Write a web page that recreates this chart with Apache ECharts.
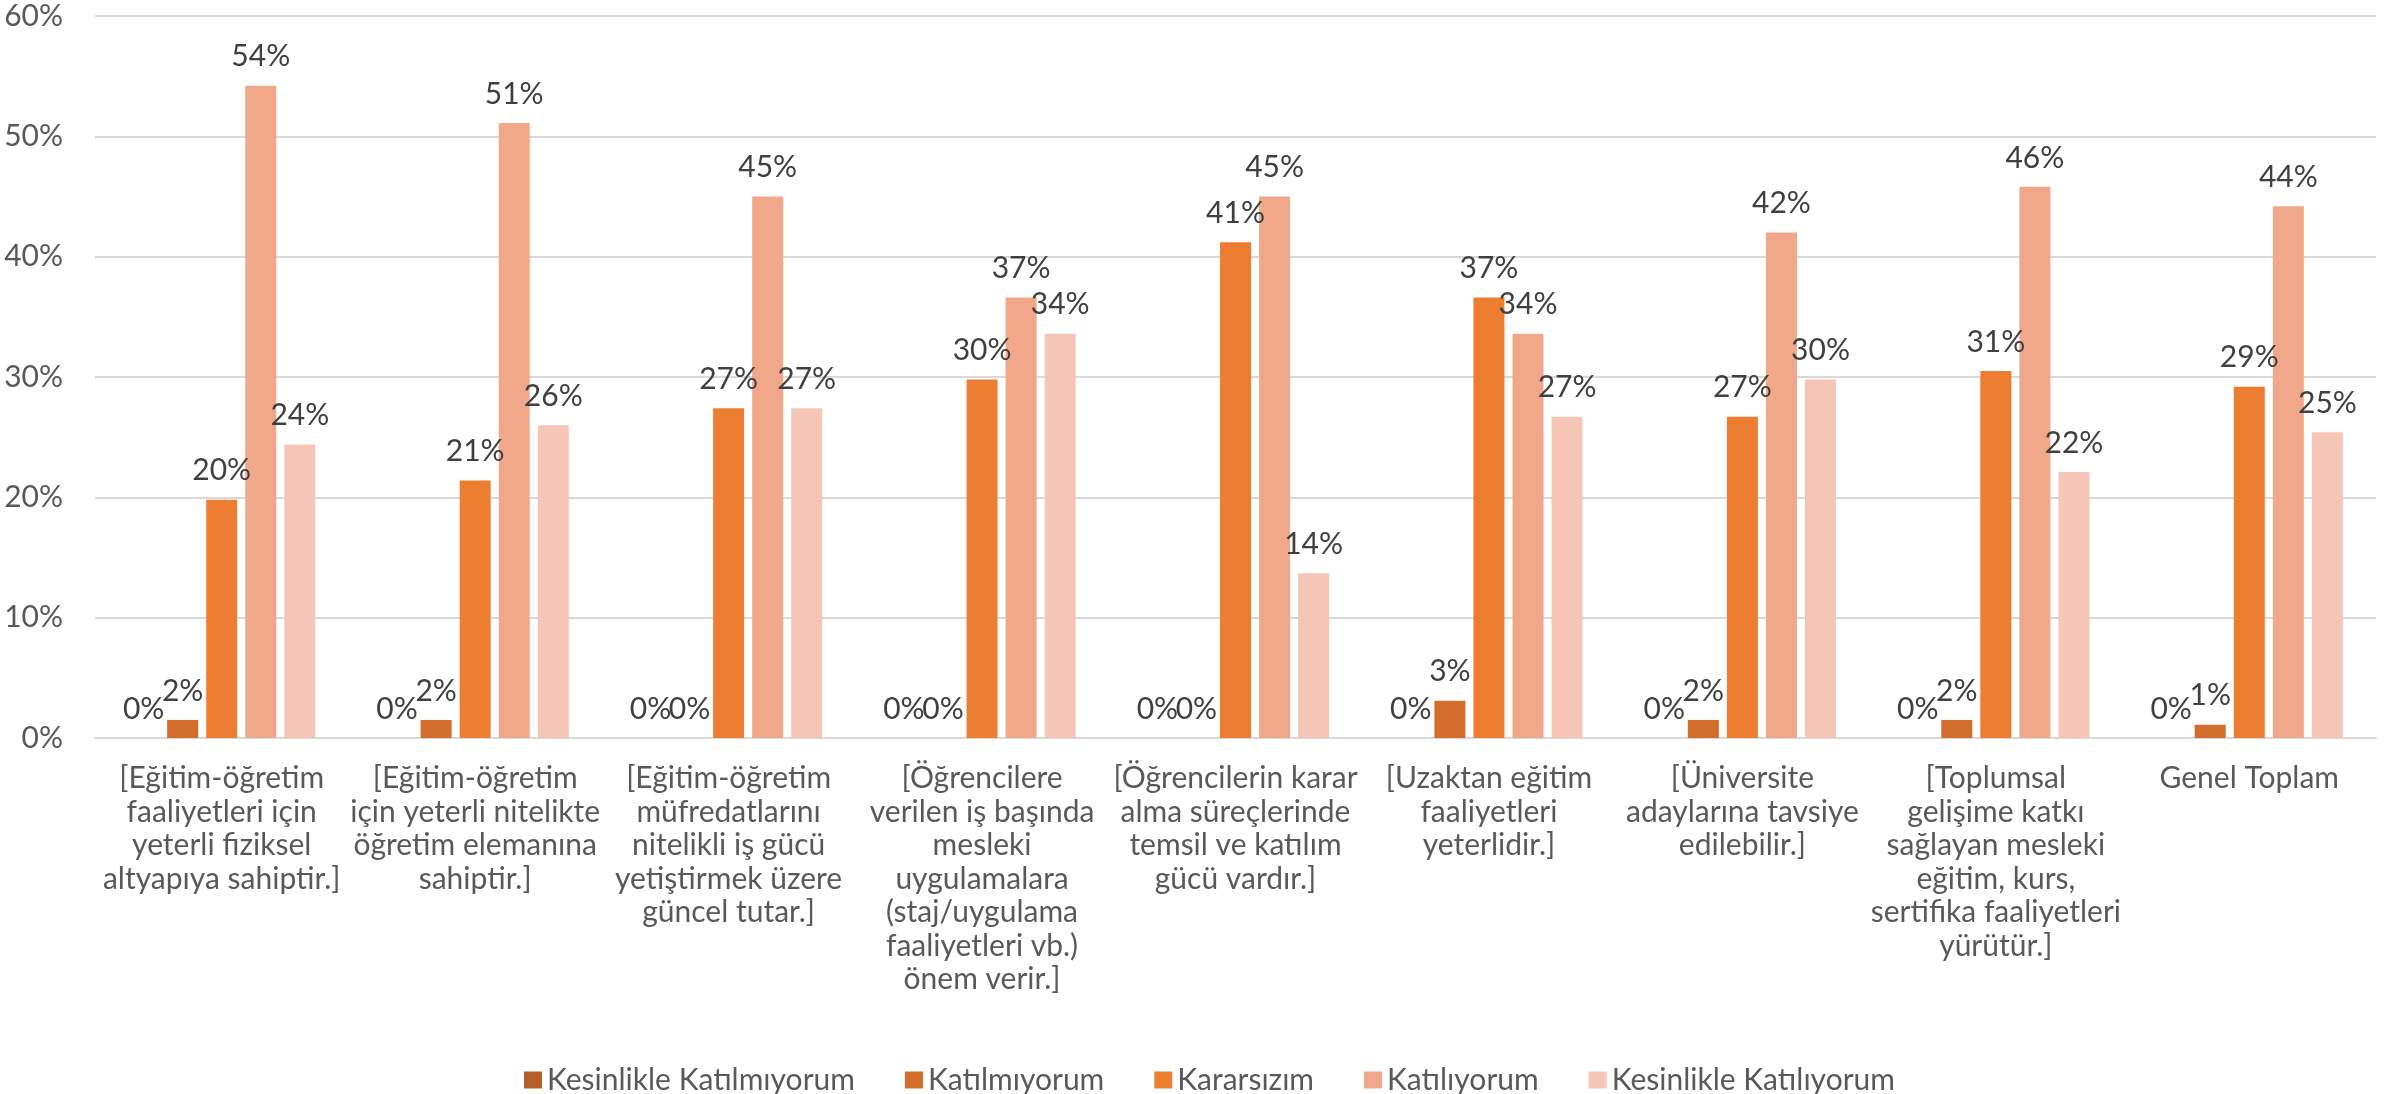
<!DOCTYPE html>
<html>
<head>
<meta charset="utf-8">
<script src="https://cdn.jsdelivr.net/npm/echarts@6/dist/echarts.min.js"></script>
<style>
html,body{margin:0;padding:0;background:#fff;}
#chart{width:2390px;height:1094px;}
</style>
</head>
<body>
<div id="chart"></div>
<script>
const categories = [
  "[Eğitim-öğretim\nfaaliyetleri için\nyeterli fiziksel\naltyapıya sahiptir.]",
  "[Eğitim-öğretim\niçin yeterli nitelikte\nöğretim elemanına\nsahiptir.]",
  "[Eğitim-öğretim\nmüfredatlarını\nnitelikli iş gücü\nyetiştirmek üzere\ngüncel tutar.]",
  "[Öğrencilere\nverilen iş başında\nmesleki\nuygulamalara\n(staj/uygulama\nfaaliyetleri vb.)\nönem verir.]",
  "[Öğrencilerin karar\nalma süreçlerinde\ntemsil ve katılım\ngücü vardır.]",
  "[Uzaktan eğitim\nfaaliyetleri\nyeterlidir.]",
  "[Üniversite\nadaylarına tavsiye\nedilebilir.]",
  "[Toplumsal\ngelişime katkı\nsağlayan mesleki\neğitim, kurs,\nsertifika faaliyetleri\nyürütür.]",
  "Genel Toplam"
];
const seriesNames = ["Kesinlikle Katılmıyorum", "Katılmıyorum", "Kararsızım", "Katılıyorum", "Kesinlikle Katılıyorum"];
const kesinlikleKatilmiyorum = [0, 0, 0, 0, 0, 0, 0, 0, 0];
const katilmiyorum = [1.5, 1.5, 0, 0, 0, 3.1, 1.5, 1.5, 1.1];
const kararsizim = [19.8, 21.4, 27.4, 29.8, 41.2, 36.6, 26.7, 30.5, 29.2];
const katiliyorum = [54.2, 51.1, 45.0, 36.6, 45.0, 33.6, 42.0, 45.8, 44.2];
const kesinlikleKatiliyorum = [24.4, 26.0, 27.4, 33.6, 13.7, 26.7, 29.8, 22.1, 25.4];
const yTicks = { min: 0, max: 60, interval: 10 };

const colors = ["#B65E27", "#D36D2C", "#ED7D31", "#F1A88A", "#F5C6B7"];
const FONT = "Lato, 'Open Sans', sans-serif";
const values = [kesinlikleKatilmiyorum, katilmiyorum, kararsizim, katiliyorum, kesinlikleKatiliyorum];

const chart = echarts.init(document.getElementById('chart'));
chart.setOption({
  animation: false,
  color: colors,
  textStyle: { fontFamily: FONT },
  grid: { left: 95, right: 14, top: 16, bottom: 356, containLabel: false },
  legend: {
    data: seriesNames,
    left: 519,
    top: 1060,
    itemWidth: 18,
    itemHeight: 17,
    itemGap: 50,
    icon: 'rect',
    textStyle: { fontFamily: FONT, fontSize: 30, color: '#595959' }
  },
  xAxis: {
    type: 'category',
    data: categories,
    axisLine: { lineStyle: { color: '#D9D9D9', width: 2 } },
    axisTick: { show: false },
    axisLabel: {
      interval: 0,
      margin: 24,
      fontFamily: FONT,
      fontSize: 30,
      lineHeight: 33.5,
      color: '#595959',
      align: 'center'
    }
  },
  yAxis: {
    type: 'value',
    min: yTicks.min,
    max: yTicks.max,
    interval: yTicks.interval,
    axisLine: { show: false },
    axisTick: { show: false },
    splitLine: { lineStyle: { color: '#D9D9D9', width: 2 } },
    axisLabel: {
      formatter: '{value}%',
      margin: 32,
      fontFamily: FONT,
      fontSize: 30,
      color: '#595959'
    }
  },
  series: seriesNames.map((name, i) => ({
    name: name,
    type: 'bar',
    data: values[i],
    barWidth: 31,
    barGap: '26%',
    label: {
      show: true,
      position: 'top',
      distance: 14,
      fontFamily: FONT,
      fontSize: 30,
      color: '#404040',
      formatter: p => Math.round(p.value) + '%'
    }
  }))
});
</script>
</body>
</html>
